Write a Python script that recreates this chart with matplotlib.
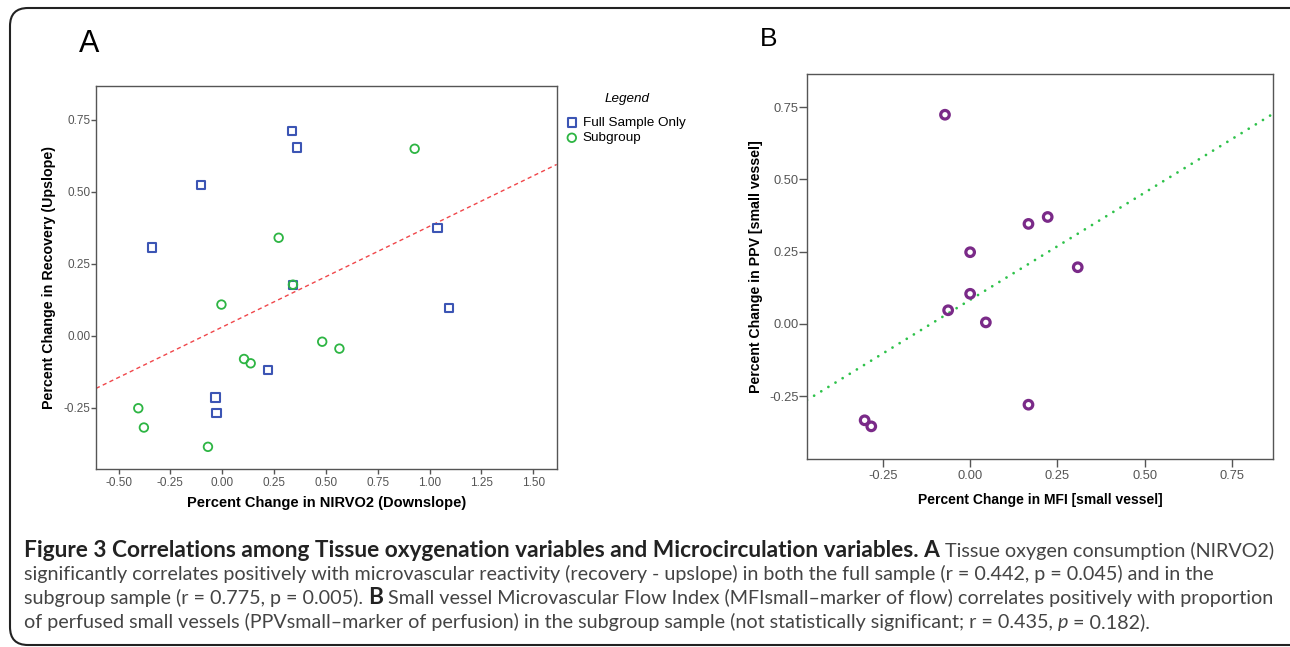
import numpy as np
import matplotlib
matplotlib.use("Agg")
import matplotlib.pyplot as plt
from matplotlib.patches import FancyBboxPatch

# Panel A data
full_x = [0.336, 0.361, -0.102, -0.340, 1.038, 0.341, 1.092, 0.220, -0.033, -0.028]
full_y = [0.712, 0.654, 0.525, 0.307, 0.376, 0.178, 0.096, -0.119, -0.214, -0.268]
sub_x = [0.928, 0.272, 0.341, -0.004, 0.105, 0.137, 0.482, 0.565, -0.405, -0.378, -0.069]
sub_y = [0.650, 0.341, 0.178, 0.109, -0.080, -0.095, -0.020, -0.044, -0.251, -0.318, -0.385]
a_fit = (0.031, 0.350)  # intercept, slope

# Panel B data
mfi_x = [-0.072, 0.167, 0.222, 0.000, 0.308, 0.000, -0.063, 0.045, 0.167, -0.302, -0.283]
ppv_y = [0.724, 0.346, 0.370, 0.248, 0.196, 0.104, 0.047, 0.005, -0.280, -0.334, -0.355]
b_fit = (0.083, 0.743)

a_xticks = [-0.50, -0.25, 0.00, 0.25, 0.50, 0.75, 1.00, 1.25, 1.50]
a_yticks = [-0.25, 0.00, 0.25, 0.50, 0.75]
b_xticks = [-0.25, 0.00, 0.25, 0.50, 0.75]
b_yticks = [-0.25, 0.00, 0.25, 0.50, 0.75]

W, H = 1290, 647
fig = plt.figure(figsize=(W / 100, H / 100), dpi=100)
fig.patch.set_facecolor("white")

# rounded frame round the whole figure
frame = FancyBboxPatch((10, 2), 1300, 637, boxstyle="round,pad=0,rounding_size=18",
                       transform=None, fill=False, edgecolor="#222222", linewidth=1.5)
fig.patches.append(frame)

tick_family = "Liberation Sans"


def style_axes(ax, tsize, tlen, xpad):
    for s in ax.spines.values():
        s.set_color("#555555")
        s.set_linewidth(1.0)
    ax.tick_params(direction="out", length=tlen, width=1.0, color="#555555",
                   labelcolor="#555555", labelsize=tsize)
    ax.tick_params(axis="x", pad=xpad)
    ax.tick_params(axis="y", pad=0.5)
    for lab in ax.get_xticklabels() + ax.get_yticklabels():
        lab.set_family(tick_family)


# ---- Panel A
axA = fig.add_axes([96 / W, 1 - 469 / H, 460.7 / W, 383.3 / H])
axA.set_xlim(-0.609, 1.613)
axA.set_ylim(-0.462, 0.869)
xl = np.array(axA.get_xlim())
axA.plot(xl, a_fit[0] + a_fit[1] * xl, color="#F0464A", linestyle=(0, (3, 2.4)), linewidth=1.0, zorder=1)
axA.scatter(full_x, full_y, marker="s", s=36, facecolors="none", edgecolors="#3C55B4",
            linewidths=1.5, label="Full Sample Only", zorder=2)
axA.scatter(sub_x, sub_y, marker="o", s=38, facecolors="none", edgecolors="#2DB543",
            linewidths=1.3, label="Subgroup", zorder=3)
axA.set_xticks(a_xticks)
axA.set_xticklabels([f"{v:.2f}" for v in a_xticks])
axA.set_yticks(a_yticks)
axA.set_yticklabels([f"{v:.2f}" for v in a_yticks])
style_axes(axA, 8.5, 3.6, 1.8)
axA.set_xlabel("Percent Change in NIRVO2 (Downslope)", family="Liberation Sans", size=10.5, weight="bold")
axA.set_ylabel("Percent Change in Recovery (Upslope)", family="Liberation Sans", size=10.3, weight="bold")
axA.xaxis.set_label_coords(0.5, -0.071)
axA.yaxis.set_label_coords(-0.087, 0.5)
leg = axA.legend(loc="upper left", bbox_to_anchor=(559 / W, 1 - 110 / H), bbox_transform=fig.transFigure,
                 frameon=False, handletextpad=0.35, borderpad=0, labelspacing=0.2,
                 handlelength=0.9, prop={"family": "Liberation Sans", "size": 9.7})
fig.text(627 / W, 1 - 99 / H, "Legend", family="Liberation Sans", size=9.7, style="italic",
         ha="center", va="center")
fig.text(79 / W, 1 - 52 / H, "A", family="Liberation Sans", size=22, va="baseline", ha="left")

# ---- Panel B
axB = fig.add_axes([807 / W, 1 - 459 / H, 466 / W, 384.7 / H])
axB.set_xlim(-0.467, 0.867)
axB.set_ylim(-0.468, 0.864)
xl = np.array(axB.get_xlim())
axB.plot(xl, b_fit[0] + b_fit[1] * xl, color="#2EC24A", linestyle=(0, (0.01, 3.0)), linewidth=2.0,
         dash_capstyle="round", zorder=1)
axB.scatter(mfi_x, ppv_y, marker="o", s=38, facecolors="none", edgecolors="#7A2A88",
            linewidths=2.3, zorder=2)
axB.set_xticks(b_xticks)
axB.set_xticklabels([f"{v:.2f}" for v in b_xticks])
axB.set_yticks(b_yticks)
axB.set_yticklabels([f"{v:.2f}" for v in b_yticks])
style_axes(axB, 9.3, 5.6, 2.4)
axB.set_xlabel("Percent Change in MFI [small vessel]", family="Liberation Sans", size=10, weight="bold")
axB.set_ylabel("Percent Change in PPV [small vessel]", family="Liberation Sans", size=10.2, weight="bold")
axB.xaxis.set_label_coords(0.5, -0.089)
axB.yaxis.set_label_coords(-0.095, 0.5)
fig.text(760 / W, 1 - 46 / H, "B", family="Liberation Sans", size=19, va="baseline", ha="left")

# ---- Caption with mixed runs
caption = [
    [("Figure 3 Correlations among Tissue oxygenation variables and Microcirculation variables. A", "bold", "normal"),
     (" Tissue oxygen consumption (NIRVO2)", "normal", "normal")],
    [("significantly correlates positively with microvascular reactivity (recovery - upslope) in both the full sample "
      "(r = 0.442, p = 0.045) and in the", "normal", "normal")],
    [("subgroup sample (r = 0.775, p = 0.005). ", "normal", "normal"), ("B", "bold", "normal"),
     (" Small vessel Microvascular Flow Index (MFIsmall\u2013marker of flow) correlates positively with proportion",
      "normal", "normal")],
    [("of perfused small vessels (PPVsmall\u2013marker of perfusion) in the subgroup sample (not statistically "
      "significant; r = 0.435, ", "normal", "normal"), ("p", "normal", "italic"), (" = 0.182).", "normal", "normal")],
]
cap_family = ["Lato", "DejaVu Sans"]
renderer = fig.canvas.get_renderer()


def run_width(text, weight, style, size):
    t1 = fig.text(0, 0, "X" + text + "X", family=cap_family, weight=weight, style=style, size=size)
    t2 = fig.text(0, 0, "XX", family=cap_family, weight=weight, style=style, size=size)
    w = t1.get_window_extent(renderer).width - t2.get_window_extent(renderer).width
    t1.remove()
    t2.remove()
    return w


# fit the font sizes so that lines 2 and 1 are as wide as in the original
base = 12.0
w2 = sum(run_width(t, wt, st, base) for t, wt, st in caption[1])
reg_size = base * 1185 / w2
reg_part = run_width(caption[0][1][0], "normal", "normal", reg_size)
wb = run_width(caption[0][0][0], "bold", "normal", base)
bold_size = base * (1245 - reg_part) / wb

baselines = [557, 580, 604, 628]
for runs, yb in zip(caption, baselines):
    x = 24
    for text, weight, style in runs:
        size = bold_size if weight == "bold" else reg_size
        col = "#222222" if weight == "bold" else "#444444"
        fig.text(x / W, 1 - yb / H, text, family=cap_family, weight=weight, style=style,
                 size=size, color=col, va="baseline", ha="left")
        x += run_width(text, weight, style, size)

fig.savefig("out.png", dpi=100)
